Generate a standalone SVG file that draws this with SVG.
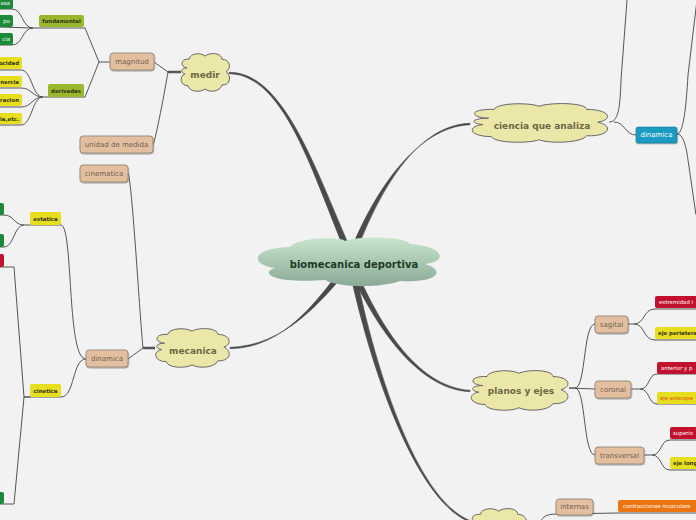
<svg xmlns="http://www.w3.org/2000/svg" xmlns:xlink="http://www.w3.org/1999/xlink" width="696" height="520" viewBox="0 0 696 520">
<style>
.ln{fill:none;stroke:#555;stroke-width:1}
.thk{fill:#4a4a4a;stroke:#4a4a4a;stroke-width:0.6}
.stub{fill:none;stroke:#555;stroke-width:2.5}
.cl{fill:#ebe7a8;stroke:#666;stroke-width:1;vector-effect:non-scaling-stroke}
.clt{font-family:"DejaVu Sans",sans-serif;font-weight:bold;font-size:9px;fill:#6b6744;text-anchor:middle;dominant-baseline:central}
.tan{fill:#e3bf9f;stroke:#9c8c7c;stroke-width:1;filter:url(#sh)}
.tant{font-family:"DejaVu Sans",sans-serif;font-size:7px;fill:#6f6050;text-anchor:middle;dominant-baseline:central}
.lbl{font-family:"DejaVu Sans",sans-serif;font-size:5.4px;dominant-baseline:central}
.dk{fill:#333318;font-weight:bold}
.wt{fill:#fff}
.ol{fill:#9ab72c}
.ye{fill:#e6de1e}
.gr{fill:#1d8a3a}
.rd{fill:#c1112d}
.or{fill:#ec7411}
</style>
<defs>
<filter id="sh" x="-20%" y="-30%" width="140%" height="170%"><feDropShadow dx="0.5" dy="1" stdDeviation="0.7" flood-color="#000" flood-opacity="0.35"/></filter>
<linearGradient id="cg" x1="0" y1="0" x2="0" y2="1"><stop offset="0" stop-color="#c8e6cc"/><stop offset="1" stop-color="#8aa996"/></linearGradient>
<path id="cloudShape" class="cl" d="M14,38 C0,36 0,14 18,16 C20,0 42,-2 50,8 C60,-3 84,0 84,16 C100,16 104,40 92,48 C104,58 100,84 84,82 C80,100 58,102 50,92 C42,102 18,100 16,84 C0,84 -2,58 10,54 C0,50 2,38 14,38 Z"/>
</defs>
<rect width="696" height="520" fill="#f2f2f2"/>

<g id="connectors">
<path class="thk" d="M229,72.3 C285,71.8 317,174.2 352.8,253.9 L347.2,256.1 C313,175.8 285,74.2 229,73.7 Z"/>
<path class="thk" d="M470,123.3 C415,124.8 377,195.8 354.8,256.1 L349.2,253.9 C373,194.2 415,127.2 470,124.7 Z"/>
<path class="thk" d="M230,347.3 C285,345.8 321.6,301.2 350.3,266.9 L345.7,263.1 C318.4,298.8 285,348.2 230,348.7 Z"/>
<path class="thk" d="M470,390.3 C415,386.8 377,319.2 354.8,266.9 L349.2,269.1 C373,320.8 415,389.2 470,391.7 Z"/>
<path class="thk" d="M472,521.3 C420,503.8 377,379.6 354.8,267.4 L349.2,268.6 C373,380.4 420,506.2 472,522.7 Z"/>

<path class="ln" d="M154,62 L168,72"/>
<path class="stub" d="M168,72 L181,72"/>
<path class="ln" d="M153,145 C156,138 165,90 168,72"/>
<path class="ln" d="M110,62 L99,62 L85,28 L33,28"/>
<path class="ln" d="M99,62 L85,97 L43,97"/>
<path class="ln" d="M33,28 C22,28 23,9 12,9 L0,9"/>
<path class="ln" d="M33,28 L0,27"/>
<path class="ln" d="M33,28 C22,28 23,45 12,45 L0,45"/>
<path class="ln" d="M43,97 C32,97 32,70 21,70 L0,70"/>
<path class="ln" d="M43,97 C32,97 32,88 21,88 L0,88"/>
<path class="ln" d="M43,97 C32,97 32,107 21,107 L0,107"/>
<path class="ln" d="M43,97 C32,97 32,125 21,125 L0,125"/>

<path class="ln" d="M128,173 C132,180 140,320 143,348"/>
<path class="ln" d="M128,359 L143,348"/>
<path class="stub" d="M143,348 L155,348"/>
<path class="ln" d="M30,225 L61,225 C72,226 68,330 80,354 Q82,359 86,359"/>
<path class="ln" d="M24,397 L61,397 C75,397 72,359 86,359"/>
<path class="ln" d="M30,225 L24,225 C14,225 14,215 4,215 L0,215"/>
<path class="ln" d="M24,225 C14,225 14,247 4,247 L0,247"/>
<path class="ln" d="M30,397 L24,397 L14,267 L0,267"/>
<path class="ln" d="M24,397 L14,504 L0,504"/>

<path class="ln" d="M609,122 C618,122 620,110 621,80 L627,0"/>
<path class="ln" d="M614,122 C625,122 625,135 636,135"/>
<path class="ln" d="M677,134 C683,134 686,110 688,75 L697,0"/>
<path class="ln" d="M677,134 C683,134 686,145 688,160 L696,215"/>

<path class="ln" d="M569,388 L575,388 C586,388 583,324 595,324"/>
<path class="ln" d="M569,388 L595,389"/>
<path class="ln" d="M575,388 C586,388 583,455 595,455"/>
<path class="ln" d="M628,324 L634,324 C645,324 643,309 655,309 L696,309"/>
<path class="ln" d="M634,324 C645,324 643,340 655,340 L696,340"/>
<path class="ln" d="M631,389 L640,389 C650,389 648,374 657,374 L696,374"/>
<path class="ln" d="M640,389 C650,389 648,404 657,404 L696,404"/>
<path class="ln" d="M644,455 L652,455 C662,455 660,440 670,440 L696,440"/>
<path class="ln" d="M652,455 C662,455 660,470 670,470 L696,470"/>
<path class="ln" d="M540,522 C544,515 548,514 560,514 L618,513 L696,513"/>
</g>

<g id="biomecanica-deportiva">
<path fill="url(#cg)" d="M275,268 C250,265 250,248 290,247 C295,238 340,236 345,241 C355,236 405,236 410,244 C445,246 448,262 425,264 C445,270 440,283 400,281 C380,288 340,288 325,280 C270,284 260,272 275,268 Z"/>
<text x="354" y="264" style="font-family:'DejaVu Sans',sans-serif;font-weight:bold;font-size:10px;fill:#1e3b26;text-anchor:middle;dominant-baseline:central">biomecanica deportiva</text>
</g>

<g id="medir"><use href="#cloudShape" transform="translate(180,53) scale(0.5,0.39)"/><text class="clt" x="205" y="75">medir</text></g>
<g id="ciencia-que-analiza"><use href="#cloudShape" transform="translate(469,103) scale(1.4,0.4)"/><text class="clt" x="542" y="126">ciencia que analiza</text></g>
<g id="mecanica"><use href="#cloudShape" transform="translate(154,328) scale(0.76,0.4)"/><text class="clt" x="193" y="351">mecanica</text></g>
<g id="planos-y-ejes"><use href="#cloudShape" transform="translate(469,370) scale(1.0,0.41)"/><text class="clt" x="521" y="391">planos y ejes</text></g>
<g id="bottom-cloud"><use href="#cloudShape" transform="translate(470,508) scale(0.57,0.4)"/></g>

<g id="magnitud"><rect class="tan" x="110" y="53" width="44" height="17" rx="3"/><text class="tant" x="132" y="62">magnitud</text></g>
<g id="unidad-de-medida"><rect class="tan" x="80" y="136" width="73" height="17" rx="3"/><text class="tant" x="116.5" y="144.5">unidad de medida</text></g>
<g id="cinematica"><rect class="tan" x="80" y="165" width="48" height="17" rx="3"/><text class="tant" x="104" y="173.5">cinematica</text></g>
<g id="dinamica-left"><rect class="tan" x="86" y="350" width="42" height="17" rx="3"/><text class="tant" x="107" y="358.5">dinamica</text></g>
<g id="sagital"><rect class="tan" x="595" y="316" width="33" height="17" rx="3"/><text class="tant" x="611.5" y="324.5">sagital</text></g>
<g id="coronal"><rect class="tan" x="595" y="381" width="36" height="17" rx="3"/><text class="tant" x="613" y="389.5">coronal</text></g>
<g id="transversal"><rect class="tan" x="595" y="447" width="49" height="17" rx="3"/><text class="tant" x="619.5" y="455.5">transversal</text></g>
<g id="internas"><rect class="tan" x="556" y="499" width="37" height="16" rx="3"/><text class="tant" x="574.5" y="507">internas</text></g>

<g id="dinamica-right"><rect x="636" y="127" width="41" height="16" rx="2" fill="#1b9bc2" stroke="#147a9a" stroke-width="0.6" filter="url(#sh)"/><text x="656.5" y="135" style="font-family:'DejaVu Sans',sans-serif;font-size:7px;fill:#fff;text-anchor:middle;dominant-baseline:central">dinamica</text></g>

<g id="fundamental"><rect class="ol" x="39" y="15" width="45" height="12" rx="2"/><text class="lbl dk" x="61.5" y="21" text-anchor="middle">fundamental</text></g>
<g id="derivadas"><rect class="ol" x="48" y="84" width="36" height="13" rx="2"/><text class="lbl dk" x="66" y="90.5" text-anchor="middle">derivadas</text></g>
<g id="estatica"><rect class="ye" x="30" y="212" width="31" height="13" rx="2"/><text class="lbl dk" x="45.5" y="218.5" text-anchor="middle">estatica</text></g>
<g id="cinetica"><rect class="ye" x="30" y="384" width="31" height="13" rx="2"/><text class="lbl dk" x="45.5" y="390.5" text-anchor="middle">cinetica</text></g>

<g id="masa"><rect class="gr" x="-30" y="-3" width="43" height="12" rx="2"/><text class="lbl wt" x="10" y="3" text-anchor="end">asa</text></g>
<g id="tiempo"><rect class="gr" x="-30" y="15" width="43" height="12" rx="2"/><text class="lbl wt" x="10" y="21" text-anchor="end">po</text></g>
<g id="distancia"><rect class="gr" x="-30" y="33" width="43" height="12" rx="2"/><text class="lbl wt" x="10" y="39" text-anchor="end">cia</text></g>
<g id="velocidad"><rect class="ye" x="-30" y="57" width="52" height="12" rx="2"/><text class="lbl dk" x="19" y="63" text-anchor="end">ocidad</text></g>
<g id="inercia"><rect class="ye" x="-30" y="76" width="52" height="11" rx="2"/><text class="lbl dk" x="19" y="81.5" text-anchor="end">nercia</text></g>
<g id="aceleracion"><rect class="ye" x="-30" y="94" width="52" height="12" rx="2"/><text class="lbl dk" x="19" y="100" text-anchor="end">racion</text></g>
<g id="etc"><rect class="ye" x="-30" y="113" width="52" height="11" rx="2"/><text class="lbl dk" x="19" y="118.5" text-anchor="end">ia,etc.</text></g>

<g id="estatica-child-1"><rect class="gr" x="-30" y="203" width="34" height="12" rx="2"/></g>
<g id="estatica-child-2"><rect class="gr" x="-30" y="234" width="34" height="13" rx="2"/></g>
<g id="cinetica-child-1"><rect class="rd" x="-30" y="254" width="34" height="13" rx="2"/></g>
<g id="cinetica-child-2"><rect class="gr" x="-30" y="492" width="34" height="12" rx="2"/></g>

<g id="extremidad"><rect class="rd" x="655" y="296" width="50" height="12" rx="2"/><text class="lbl wt" x="659" y="302">extremidad i</text></g>
<g id="eje-perilateral"><rect class="ye" x="655" y="327" width="50" height="12" rx="2"/><text class="lbl dk" x="658" y="333">eje periatera</text></g>
<g id="anterior"><rect class="rd" x="657" y="362" width="48" height="12" rx="2"/><text class="lbl wt" x="661" y="368">anterior y p</text></g>
<g id="eje-anteroposterior"><rect class="ye" x="657" y="392" width="48" height="12" rx="2"/><text class="lbl" x="660" y="398" style="fill:#e0401a;font-size:5.2px">eje anterope</text></g>
<g id="superior"><rect class="rd" x="670" y="427" width="35" height="12" rx="2"/><text class="lbl wt" x="673" y="433">superio</text></g>
<g id="eje-longitudinal"><rect class="ye" x="670" y="457" width="35" height="12" rx="2"/><text class="lbl dk" x="673" y="463">eje long</text></g>
<g id="contracciones"><rect class="or" x="618" y="500" width="85" height="12" rx="2"/><text class="lbl wt" x="623" y="506">contracciones musculare</text></g>
</svg>
